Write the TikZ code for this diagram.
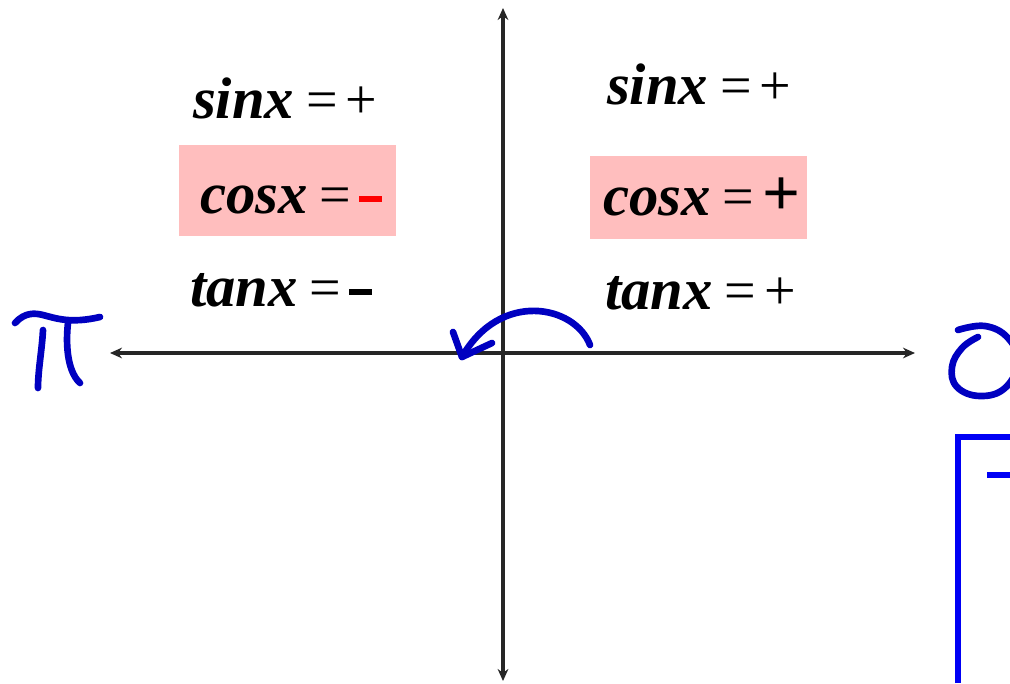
\documentclass[tikz,border=0pt]{standalone}
\usepackage{fontspec}
\setmainfont{Liberation Serif}
\usetikzlibrary{arrows.meta}
\definecolor{pinkbg}{RGB}{255,190,190}
\definecolor{pen}{RGB}{0,0,192}
\definecolor{boxblue}{RGB}{0,0,245}
\newcommand{\fn}[1]{{\fontsize{44}{44}\selectfont\bfseries\itshape #1}}
\newcommand{\eqs}[1]{{\fontsize{42}{42}\selectfont\hspace{9pt}=\hspace{6pt}#1}}
\newcommand{\minusbar}[1]{{\color{#1}\rule[8pt]{17pt}{5pt}}}
\begin{document}
\begin{tikzpicture}[x=0.75pt,y=-0.75pt,
  lbl/.style={anchor=base west,inner sep=0pt,outer sep=0pt},
  pinkbox/.style={fill=pinkbg,draw=none},
  axis/.style={line width=2.6pt,black!85,-{Stealth[length=9pt,width=8pt]}},
  ink/.style={pen,line width=5pt,line cap=round,line join=round},
  bluebox/.style={boxblue,line width=5.2pt}]
\useasboundingbox (0,0) rectangle (1010,683);
\clip (0,0) rectangle (1010,683);
% pink highlight boxes
\fill[pinkbox] (179,145) rectangle (396,236);
\fill[pinkbox] (590,156) rectangle (807,239);
% axes
\coordinate (c) at (503,353);
\coordinate (xl) at (110,353);
\coordinate (xr) at (915,353);
\coordinate (yt) at (503,8);
\coordinate (yb) at (503,681);
\draw[axis] (c) -- (xl);
\draw[axis] (c) -- (xr);
\draw[axis] (c) -- (yt);
\draw[axis] (c) -- (yb);
% labels
\node[lbl] (s2) at (193,118) {\fn{sinx}\eqs{+}};
\node[lbl] (c2) at (200,213) {\fn{cosx}\eqs{\minusbar{red}}};
\node[lbl] (t2) at (190,306) {\fn{tanx}\eqs{\minusbar{black}}};
\node[lbl] (s1) at (607,104) {\fn{sinx}\eqs{+}};
\node[lbl] (c1) at (603,215) {\fn{cosx}\eqs{{\fontsize{50}{50}\selectfont\bfseries +}}};
\node[lbl] (t1) at (605,309) {\fn{tanx}\eqs{+}};
% handwritten pi
\draw[ink] (15,323) .. controls (25,312) and (35,313) .. (43,315) .. controls (55,318) and (70,324) .. (100,317);
\draw[ink] (43,330) .. controls (42,350) and (38,370) .. (38,388);
\draw[ink] (68,323) .. controls (66,340) and (66,370) .. (80,383);
% handwritten O
\draw[ink] plot[smooth,tension=0.7] coordinates {(958,330) (985,326) (1008,338) (1018,362) (1005,388) (980,396) (957,387) (952,367) (962,348) (978,337)};
% arc arrow
\coordinate (as) at (590,345);
\coordinate (tip) at (462,357);
\draw[ink] (as) .. controls (575,305) and (500,290) .. (tip);
\draw[ink] (453,332) -- (tip) -- (492,343);
% blue box
\coordinate (b1) at (958,683);
\coordinate (b2) at (958,437);
\coordinate (b3) at (1012,437);
\draw[bluebox] (b1) -- (b2) -- (b3);
\coordinate (d1) at (987,475);
\coordinate (d2) at (1012,475);
\draw[bluebox] (d1) -- (d2);
\end{tikzpicture}
\end{document}
